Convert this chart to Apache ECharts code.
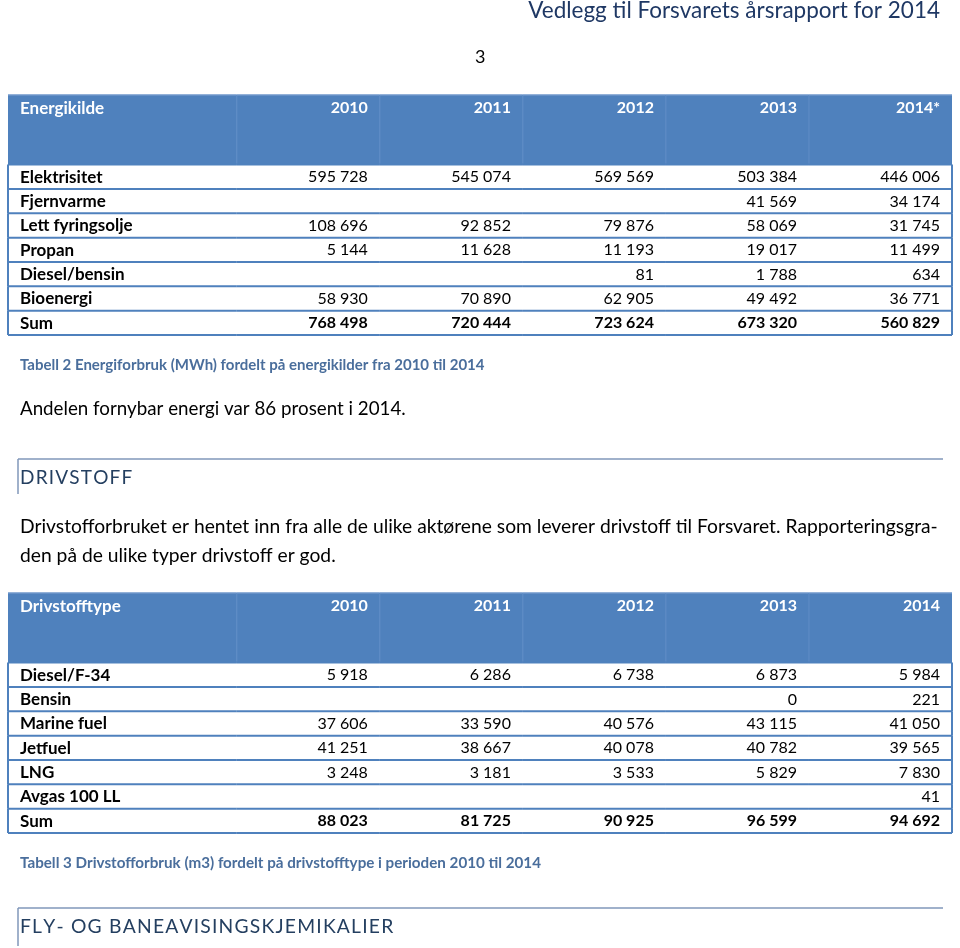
<!DOCTYPE html>
<html>
<head>
<meta charset="utf-8">
<script src="https://cdn.jsdelivr.net/npm/echarts@6/dist/echarts.min.js"></script>
<style>html,body{margin:0;padding:0;background:#fff}#c{width:960px;height:948px}</style>
</head>
<body>
<div id="c"></div>
<script>
// ---------- DATA ----------
const energyHeader = ['Energikilde', '2010', '2011', '2012', '2013', '2014*'];
const energySources = ['Elektrisitet', 'Fjernvarme', 'Lett fyringsolje', 'Propan', 'Diesel/bensin', 'Bioenergi', 'Sum'];
const energy2010 = [595728, null, 108696, 5144, null, 58930, 768498];
const energy2011 = [545074, null, 92852, 11628, null, 70890, 720444];
const energy2012 = [569569, null, 79876, 11193, 81, 62905, 723624];
const energy2013 = [503384, 41569, 58069, 19017, 1788, 49492, 673320];
const energy2014 = [446006, 34174, 31745, 11499, 634, 36771, 560829];

const fuelHeader = ['Drivstofftype', '2010', '2011', '2012', '2013', '2014'];
const fuelTypes = ['Diesel/F-34', 'Bensin', 'Marine fuel', 'Jetfuel', 'LNG', 'Avgas 100 LL', 'Sum'];
const fuel2010 = [5918, null, 37606, 41251, 3248, null, 88023];
const fuel2011 = [6286, null, 33590, 38667, 3181, null, 81725];
const fuel2012 = [6738, null, 40576, 40078, 3533, null, 90925];
const fuel2013 = [6873, 0, 43115, 40782, 5829, null, 96599];
const fuel2014 = [5984, 221, 41050, 39565, 7830, 41, 94692];

// ---------- LAYOUT CONSTANTS ----------
const LABEL_UNITS = 1.6;      // width of first column in year-column units
const HEADER_UNITS = 2.86;    // header height in row units
const NCOLS = 5;
const NROWS = 7;
const X_MAX = LABEL_UNITS + NCOLS;
const Y_MAX = HEADER_UNITS + NROWS;
const BLUE = '#4F81BD';
const FONT = 'Lato, Carlito, Calibri, sans-serif';
const HS = '\u200A';

function fmt(v) {
  if (v === null || v === undefined) return '';
  return String(v).replace(/\B(?=(\d{3})+(?!\d))/g, ' ');
}
function spaced(s) { return s.split('').join(HS); }

function buildCells(header, labels, cols) {
  const cells = [];
  header.forEach((h, c) => cells.push({ col: c, row: -1, text: h }));
  labels.forEach((lab, r) => {
    cells.push({ col: 0, row: r, text: lab, bold: true });
    cols.forEach((arr, i) => cells.push({ col: i + 1, row: r, text: fmt(arr[r]), bold: lab === 'Sum' }));
  });
  return cells;
}

function colX0(c) { return c === 0 ? 0 : LABEL_UNITS + (c - 1); }
function colX1(c) { return c === 0 ? LABEL_UNITS : LABEL_UNITS + c; }

function makeRender(cells) {
  return function (params, api) {
    const cell = cells[params.dataIndex];
    const c = cell.col, r = cell.row;
    const x0 = api.coord([colX0(c), 0])[0];
    const x1 = api.coord([colX1(c), 0])[0];
    const children = [];
    const padX = 12;
    if (r === -1) {
      const yTop = api.coord([0, 0])[1];
      const yBot = api.coord([0, HEADER_UNITS])[1];
      const yText = api.coord([0, 0.54])[1];
      children.push({ type: 'rect', shape: { x: x0, y: yTop, width: x1 - x0, height: yBot - yTop }, style: { fill: BLUE } });
      if (c > 0) {
        children.push({ type: 'line', shape: { x1: x0, y1: yTop, x2: x0, y2: yBot }, style: { stroke: '#5C8BC5', lineWidth: 1.2 } });
      }
      children.push({ type: 'line', shape: { x1: x0, y1: yTop, x2: x1, y2: yTop }, style: { stroke: '#6F97CB', lineWidth: 1.5 } });
      children.push({
        type: 'text',
        style: {
          x: c === 0 ? x0 + padX : x1 - padX, y: yText, text: cell.text,
          align: c === 0 ? 'left' : 'right', verticalAlign: 'middle',
          fill: '#ffffff', font: 'bold ' + (c === 0 ? 17 : 16) + 'px ' + FONT
        }
      });
    } else {
      const yTop = api.coord([0, HEADER_UNITS + r])[1];
      const yBot = api.coord([0, HEADER_UNITS + r + 1])[1];
      const yMid = (yTop + yBot) / 2 + 0.5;
      children.push({ type: 'line', shape: { x1: x0, y1: yTop, x2: x1, y2: yTop }, style: { stroke: BLUE, lineWidth: 2 } });
      if (r === NROWS - 1) {
        children.push({ type: 'line', shape: { x1: x0, y1: yBot, x2: x1, y2: yBot }, style: { stroke: BLUE, lineWidth: 2 } });
      }
      if (c === 0) {
        children.push({ type: 'line', shape: { x1: x0, y1: yTop, x2: x0, y2: yBot }, style: { stroke: BLUE, lineWidth: 2 } });
      }
      if (c === NCOLS) {
        children.push({ type: 'line', shape: { x1: x1, y1: yTop, x2: x1, y2: yBot }, style: { stroke: BLUE, lineWidth: 2 } });
      }
      children.push({
        type: 'text',
        style: {
          x: c === 0 ? x0 + padX : x1 - padX, y: yMid, text: cell.text,
          align: c === 0 ? 'left' : 'right', verticalAlign: 'middle',
          fill: '#000000', font: (cell.bold ? 'bold ' : '') + (c === 0 ? 17 : 16) + 'px ' + FONT
        }
      });
    }
    return { type: 'group', children: children };
  };
}

const energyCells = buildCells(energyHeader, energySources, [energy2010, energy2011, energy2012, energy2013, energy2014]);
const fuelCells = buildCells(fuelHeader, fuelTypes, [fuel2010, fuel2011, fuel2012, fuel2013, fuel2014]);

function hiddenAxis(gridIndex, max, inverse) {
  return {
    type: 'value', gridIndex: gridIndex, min: 0, max: max, inverse: !!inverse,
    show: false, splitLine: { show: false }, axisLine: { show: false }, axisTick: { show: false }, axisLabel: { show: false }
  };
}

const chart = echarts.init(document.getElementById('c'), null, { renderer: 'canvas' });

const titleBase = { padding: 0, itemGap: 0 };
function t(text, pos, size, weight, color) {
  return Object.assign({ text: text, textStyle: { fontFamily: FONT, fontSize: size, fontWeight: weight, color: color } }, pos, titleBase);
}
const option = {
  backgroundColor: '#ffffff',
  animation: false,
  title: [
    t('Vedlegg til Forsvarets årsrapport for 2014', { right: 20, top: -1 }, 22.5, 'normal', '#1F3864'),
    t('3', { left: 475, top: 48 }, 18, 'normal', '#000'),
    t('Tabell 2 Energiforbruk (MWh) fordelt på energikilder fra 2010 til 2014', { left: 20, top: 358 }, 15, 'bold', '#4A6E9C'),
    t('Andelen fornybar energi var 86 prosent i 2014.', { left: 20, top: 399 }, 18.75, 'normal', '#000'),
    t(spaced('DRIVSTOFF'), { left: 20, top: 468 }, 19, 'normal', '#243F60'),
    t('Drivstofforbruket er hentet inn fra alle de ulike aktørene som leverer drivstoff til Forsvaret. Rapporteringsgra-', { left: 20, top: 517 }, 19.25, 'normal', '#000'),
    t('den på de ulike typer drivstoff er god.', { left: 20, top: 546 }, 19.25, 'normal', '#000'),
    t('Tabell 3 Drivstofforbruk (m3) fordelt på drivstofftype i perioden 2010 til 2014', { left: 20, top: 856 }, 15.2, 'bold', '#4A6E9C'),
    t(spaced('FLY- OG BANEAVISINGSKJEMIKALIER'), { left: 20, top: 917 }, 19.3, 'normal', '#243F60')
  ],
  graphic: [
    { type: 'line', shape: { x1: 18, y1: 459, x2: 943, y2: 459 }, style: { stroke: '#8097BA', lineWidth: 1.5 } },
    { type: 'line', shape: { x1: 18, y1: 459, x2: 18, y2: 494 }, style: { stroke: '#8097BA', lineWidth: 1.5 } },
    { type: 'line', shape: { x1: 18, y1: 908, x2: 943, y2: 908 }, style: { stroke: '#8097BA', lineWidth: 1.5 } },
    { type: 'line', shape: { x1: 18, y1: 908, x2: 18, y2: 946 }, style: { stroke: '#8097BA', lineWidth: 1.5 } }
  ],
  grid: [
    { left: 8, top: 95, width: 944, height: 240 },
    { left: 8, top: 593, width: 944, height: 240 }
  ],
  xAxis: [hiddenAxis(0, X_MAX), hiddenAxis(1, X_MAX)],
  yAxis: [hiddenAxis(0, Y_MAX, true), hiddenAxis(1, Y_MAX, true)],
  series: [
    {
      type: 'custom', xAxisIndex: 0, yAxisIndex: 0, clip: false,
      renderItem: makeRender(energyCells),
      data: energyCells.map(c => [colX0(c.col), c.row])
    },
    {
      type: 'custom', xAxisIndex: 1, yAxisIndex: 1, clip: false,
      renderItem: makeRender(fuelCells),
      data: fuelCells.map(c => [colX0(c.col), c.row])
    }
  ]
};
chart.setOption(option);
</script>
</body>
</html>
